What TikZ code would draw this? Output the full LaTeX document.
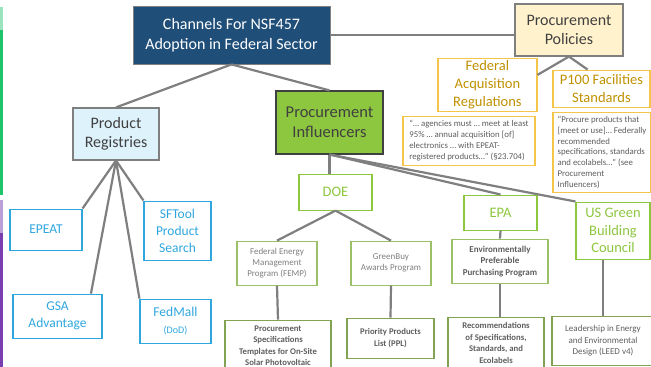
\documentclass[tikz,border=0pt]{standalone}
\usepackage{fontspec}
\setmainfont{Carlito}
\usepackage{xcolor}
\usepackage{tikz}
\usetikzlibrary{positioning}

\definecolor{navy}{HTML}{1F4E79}
\definecolor{cream}{HTML}{FFF2CC}
\definecolor{gold}{HTML}{F5C54A}
\definecolor{goldtext}{HTML}{BF9000}
\definecolor{skyfill}{HTML}{DEF2FC}
\definecolor{sky}{HTML}{2FA6DE}
\definecolor{leaf}{HTML}{8DC63F}
\definecolor{leafline}{HTML}{9CC068}
\definecolor{olive}{HTML}{82A452}
\definecolor{linkgray}{HTML}{7F7F7F}
\definecolor{ink}{HTML}{404040}
\definecolor{barGreen}{HTML}{1DC46C}
\definecolor{barPurple}{HTML}{7A3EB0}

\begin{document}
\begin{tikzpicture}[
  x=1pt, y=-1pt,
  box/.style={rectangle, draw, line width=1.1pt, inner sep=1pt, align=center},
  topbox/.style={box, fill=navy, draw=gray, line width=0.8pt, text=white, font=\fontsize{16}{20}\selectfont},
  policy/.style={box, fill=cream, draw=linkgray, text=ink, font=\fontsize{16}{19.5}\selectfont},
  policysub/.style={box, draw=gold, text=goldtext, font=\fontsize{14.5}{18}\selectfont},
  quote/.style={box, draw=gold, text=ink!85, align=left, inner sep=4pt, font=\fontsize{8.8}{10.8}\selectfont},
  registry/.style={box, fill=skyfill, draw=linkgray, text=ink, font=\fontsize{16}{19.5}\selectfont},
  regitem/.style={box, draw=sky, text=sky, font=\fontsize{13.5}{17}\selectfont},
  influencer/.style={box, fill=leaf, draw=ink, text=ink, font=\fontsize{16.5}{20}\selectfont},
  agency/.style={box, draw=leaf, text=leaf, font=\fontsize{14.5}{17.5}\selectfont},
  program/.style={box, draw=leafline, text=linkgray, font=\fontsize{9}{11}\selectfont},
  result/.style={box, draw=olive, text=ink!85, font=\fontsize{8.7}{11.5}\selectfont\bfseries},
  link/.style={draw=linkgray, line width=2.2pt}
]
\useasboundingbox (0,0) rectangle (651,367);

\fill[barGreen!45] (0,7) rectangle (2.5,30);
\fill[barGreen] (0,30) rectangle (2.5,195);
\fill[barPurple!50] (0,200) rectangle (2.5,233);
\fill[barPurple] (0,233) rectangle (2.5,367);

\node[topbox, minimum width=197, minimum height=58] (CH) at (231.5,35) {Channels For NSF457\\Adoption in Federal Sector};
\node[policy, minimum width=108, minimum height=52, right=184pt of CH, yshift=5pt] (PP) {Procurement\\Policies};
\node[policysub, minimum width=99, minimum height=53, below=1pt of PP, xshift=-81.5pt] (FAR) {Federal\\Acquisition\\Regulations};
\node[policysub, minimum width=97, minimum height=37, below=13pt of PP, xshift=32.5pt] (P100) {P100 Facilities\\Standards};
\node[quote, minimum width=132, minimum height=49, below=4pt of FAR, xshift=-18.5pt] (Q1) {“… agencies must … meet at least\\95\% … annual acquisition [of]\\electronics … with EPEAT-\\registered products…” (§23.704)};
\node[quote, minimum width=98, minimum height=79, below=4pt of P100, xshift=0.5pt] (Q2) {“Procure products that\\{}[meet or use]… Federally\\recommended\\specifications, standards\\and ecolabels…” (see\\Procurement\\Influencers)};

\node[registry, minimum width=86, minimum height=52, below=43pt of CH, xshift=-115.5pt] (PR) {Product\\Registries};
\node[regitem, minimum width=72, minimum height=41, below=48pt of PR, xshift=-70pt] (EPEAT) {EPEAT};
\node[regitem, minimum width=67, minimum height=59, below=40pt of PR, xshift=61.5pt] (SFT) {SFTool\\Product\\Search};
\node[regitem, minimum width=89, minimum height=44, below=43pt of EPEAT, xshift=11.5pt] (GSA) {GSA\\Advantage};
\node[regitem, minimum width=71, minimum height=44, below=38pt of SFT, xshift=-2pt] (FM) {FedMall\\{\fontsize{10}{12}\selectfont(DoD)}};

\node[influencer, minimum width=107, minimum height=63, below=26pt of CH, xshift=98pt] (PI) {Procurement\\Influencers};
\node[agency, minimum width=73, minimum height=36, below=19pt of PI, xshift=6pt] (DOE) {DOE};
\node[agency, minimum width=73, minimum height=35, below=40pt of PI, xshift=171pt] (EPA) {EPA};
\node[agency, minimum width=74, minimum height=57, below=47pt of PI, xshift=283.5pt] (USGBC) {US Green\\Building\\Council};
\node[program, minimum width=80, minimum height=44, below=30pt of DOE, xshift=-58.5pt] (FEMP) {Federal Energy\\Management\\Program (FEMP)};
\node[program, minimum width=80, minimum height=44, below=30pt of DOE, xshift=55.5pt] (GB) {GreenBuy\\Awards Program};
\node[program, minimum width=96, minimum height=44, below=8pt of EPA, xshift=-0.5pt, text=ink!85, font=\fontsize{9}{11.5}\selectfont\bfseries] (EPPP) {Environmentally\\Preferable\\Purchasing Program};
\node[result, minimum width=106, minimum height=51, below=34pt of FEMP, xshift=1pt] (PST) {Procurement\\Specifications\\Templates for On-Site\\Solar Photovoltaic};
\node[result, minimum width=87, minimum height=40, below=32pt of GB, xshift=-0.5pt] (PPL) {Priority Products\\List (PPL)};
\node[result, minimum width=96, minimum height=51, below=33pt of EPPP, xshift=-4pt] (REC) {Recommendations\\of Specifications,\\Standards, and\\Ecolabels};
\node[result, minimum width=102, minimum height=49, below=56pt of USGBC, xshift=-10pt, font=\fontsize{9}{11.5}\selectfont] (LEED) {Leadership in Energy\\and Environmental\\Design (LEED v4)};

\draw[link] (CH.east) -- (CH.east -| PP.west);
\draw[link] (PP.south) -- (FAR.11);
\draw[link] (PP.south) -- (P100.126);
\draw[link] (CH.south) -- (PR.north);
\draw[link] (CH.south) -- (PI.north);

\draw[link] (PR.south) -- (EPEAT.north east);
\draw[link] (PR.south) -- (GSA.34);
\draw[link] (PR.south) -- (FM.north west);
\draw[link] (PR.south) -- (SFT.north west);

\draw[link] (PI.south) -- (PI.south |- DOE.north);
\draw[link] (PI.south) -- (EPA.north);
\draw[link] (PI.south) -- (USGBC.north west);
\draw[link] (DOE.south) -- (FEMP.north);
\draw[link] (DOE.south) -- (GB.north);
\draw[link] (EPA.south) -- (EPPP.north);
\draw[link] (FEMP.south) -- (PST.north);
\draw[link] (GB.south) -- (PPL.north);
\draw[link] (EPPP.south) -- (EPPP.south |- REC.north);
\draw[link] (LEED.north |- USGBC.south) -- (LEED.north);
\end{tikzpicture}
\end{document}
